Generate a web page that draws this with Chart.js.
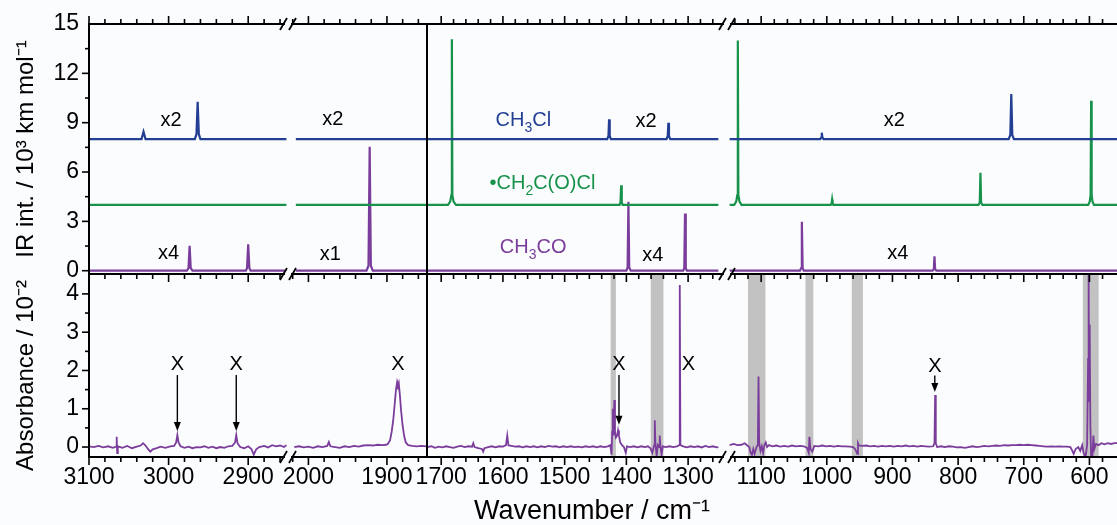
<!DOCTYPE html>
<html><head><meta charset="utf-8">
<script src="https://cdn.jsdelivr.net/npm/chart.js@4.4.1/dist/chart.umd.min.js"></script>
<style>
html,body{margin:0;padding:0;background:#fbfcfe;}
canvas{display:block;}
</style></head><body>
<canvas id="c" width="1117" height="525"></canvas>
<script>
// ---------- axis ticks (wavenumber segments, cm-1) ----------
const xTicksSeg1 = [3100, 3000, 2900];
const xTicksSeg2 = [2000, 1900];
const xTicksSeg3 = [1700, 1600, 1500, 1400, 1300];
const xTicksSeg4 = [1100, 1000, 900, 800, 700, 600];
const yTicksIR = [0, 3, 6, 9, 12, 15];
const yTicksAbs = [0, 1, 2, 3, 4];

// ---------- calculated IR spectra (offset traces) ----------
const ch3clSeg1 = [[3100,8],[3034,8],[3031.5,8.45],[3029,8],[2967,8],[2965,8.3],[2963.5,10.27],[2962,8.3],[2960,8],[2852,8]];
const ch3clSeg2 = [[2016,8],[1849,8]];
const ch3clSeg3 = [[1723,8],[1431,8],[1429,8.2],[1428,9.2],[1427,8.2],[1425,8],[1335,8],[1333,8.2],[1332,9.0],[1331,8.2],[1329,8],[1251,8]];
const ch3clSeg4 = [[1148,8],[1010,8],[1008.5,8.1],[1007.6,8.39],[1006.7,8.1],[1005,8],[723,8],[720.5,8.25],[719,10.74],[717.5,8.25],[715,8],[558,8]];

const ch2coclSeg1 = [[3100,4],[2852,4]];
const ch2coclSeg2 = [[2016,4],[1849,4]];
const ch2coclSeg3 = [[1723,4],[1689,4],[1685.5,4.2],[1683.5,4.6],[1682.7,14.07],[1681.9,4.6],[1680,4.2],[1676,4],[1411,4],[1409.5,4.15],[1408.5,5.2],[1407.5,4.15],[1406,4],[1251,4]];
const ch2coclSeg4 = [[1148,4],[1141,4],[1138,4.2],[1136.3,4.6],[1135.5,13.99],[1134.7,4.6],[1133,4.2],[1130,4],[994,4],[992.7,4.1],[991.9,4.33],[991.1,4.1],[990,4],[769,4],[767,4.15],[766,5.95],[765,4.15],[763,4],[602,4],[599.5,4.2],[598.2,4.6],[597.4,10.33],[596.6,4.6],[595.3,4.2],[593,4],[558,4]];

const ch3coSeg1 = [[3100,0],[2977,0],[2975,0.15],[2973.6,1.51],[2972.2,0.15],[2970,0],[2903,0],[2901.5,0.15],[2900,1.6],[2898.5,0.15],[2897,0],[2852,0]];
const ch3coSeg2 = [[2016,0],[1926,0],[1923.5,0.3],[1922,7.54],[1920.5,0.3],[1918,0],[1849,0]];
const ch3coSeg3 = [[1723,0],[1400,0],[1398,0.2],[1396.7,4.19],[1395.4,0.2],[1393,0],[1308,0],[1306.2,0.15],[1305,3.48],[1303.8,0.15],[1302,0],[1251,0]];
const ch3coSeg4 = [[1148,0],[1041,0],[1039.2,0.15],[1038,2.97],[1036.8,0.15],[1035,0],[839,0],[837,0.1],[836,0.88],[835,0.1],[833,0],[558,0]];

// ---------- measured difference spectrum (absorbance / 10^-2) ----------
const absSeg1 = [[3100,0.02],[3094,0.0],[3088,0.03],[3082,-0.01],[3076,0.02],[3070,-0.02],[3066,0.01],[3065.2,0.27],[3064.6,-0.16],[3063.8,0.02],[3058,-0.02],[3052,0.03],[3046,-0.03],[3040,0.01],[3035,0.04],[3032,0.1],[3029,0.04],[3026,-0.05],[3023,-0.12],[3020,-0.06],[3015,-0.03],[3010,0.01],[3004,-0.02],[2998,0.02],[2993,0.03],[2990.5,0.12],[2989,0.31],[2987.5,0.12],[2985,0.02],[2980,-0.02],[2975,0.01],[2970,-0.03],[2965,0.0],[2960,-0.01],[2955,0.02],[2950,-0.02],[2945,0.01],[2940,-0.03],[2935,0.0],[2930,-0.02],[2925,0.02],[2920,0.03],[2916.5,0.12],[2915,0.31],[2913.5,0.1],[2910,0.0],[2905,-0.03],[2900,0.02],[2896,-0.05],[2893,-0.2],[2890,-0.06],[2886,0.0],[2880,0.03],[2875,-0.01],[2870,0.05],[2865,0.02],[2860,0.04],[2855,0.0],[2852,0.05]];
const absSeg2 = [[2018,0.0],[2012,0.02],[2006,-0.01],[2000,0.01],[1994,-0.02],[1988,0.02],[1982,0.0],[1976,0.03],[1974,0.13],[1972,0.02],[1966,0.0],[1960,-0.02],[1954,0.02],[1948,0.0],[1942,0.03],[1936,0.01],[1930,0.04],[1924,0.05],[1918,0.04],[1912,0.06],[1906,0.05],[1901,0.06],[1899,0.08],[1896,0.18],[1894,0.4],[1892,0.7],[1890,1.15],[1888.5,1.5],[1887,1.7],[1886,1.62],[1885,1.68],[1883.5,1.35],[1882,0.95],[1880,0.55],[1878,0.28],[1876,0.12],[1873,0.05],[1868,0.03],[1862,0.02],[1856,0.03],[1849,0.02]];
const absSeg3 = [[1723,0.0],[1716,0.02],[1710,-0.02],[1704,0.01],[1698,-0.01],[1692,0.02],[1686,0.0],[1680,-0.02],[1674,0.01],[1668,0.03],[1662,0.0],[1656,0.02],[1650,0.01],[1648,0.1],[1646,0.0],[1640,-0.03],[1634,-0.05],[1632,-0.12],[1630,-0.03],[1624,0.0],[1618,0.02],[1612,-0.01],[1606,0.02],[1600,0.01],[1595,0.05],[1593,0.3],[1591,0.04],[1586,0.03],[1580,0.01],[1574,0.02],[1568,-0.01],[1562,0.02],[1556,0.0],[1550,0.02],[1544,-0.01],[1538,0.02],[1532,0.0],[1526,0.03],[1520,0.01],[1514,0.02],[1508,-0.01],[1502,0.02],[1496,0.0],[1490,0.02],[1484,0.0],[1478,0.01],[1472,-0.01],[1466,0.02],[1460,0.0],[1454,0.02],[1448,-0.01],[1442,0.02],[1436,0.0],[1430,0.02],[1426,0.05],[1424,-0.2],[1423,0.4],[1422,1.0],[1421,0.3],[1419.5,1.23],[1418.5,0.4],[1417,0.25],[1415,0.3],[1413.5,0.44],[1412,0.3],[1410,0.12],[1407,0.05],[1404,0.0],[1401,-0.15],[1399,0.02],[1394,0.0],[1388,0.02],[1382,-0.01],[1376,0.02],[1370,0.0],[1365,0.02],[1361,-0.03],[1358,-0.15],[1355,0.05],[1354,0.7],[1353,0.1],[1351,-0.22],[1349,0.05],[1347,0.0],[1346,0.3],[1345,0.05],[1343,-0.2],[1341,0.02],[1336,0.0],[1330,0.02],[1324,0.0],[1318,0.02],[1314.5,0.05],[1313.5,4.23],[1312.5,0.05],[1308,0.02],[1302,-0.01],[1296,0.02],[1290,0.0],[1284,0.02],[1278,-0.01],[1272,0.03],[1266,0.0],[1260,0.02],[1254,-0.01],[1251,0.0]];
const absSeg4 = [[1148,0.05],[1142,0.08],[1136,0.05],[1130,0.06],[1125,0.1],[1121,0.04],[1118,0.0],[1116,-0.15],[1114,-0.2],[1112,-0.05],[1110,-0.18],[1107,0.0],[1105,0.05],[1104,1.84],[1103,0.1],[1101,-0.1],[1099,0.02],[1097,-0.15],[1095,0.05],[1093,0.12],[1091,0.0],[1088,0.05],[1083,0.02],[1077,0.04],[1071,0.01],[1065,0.03],[1059,0.01],[1053,0.04],[1047,0.02],[1041,0.03],[1035,0.02],[1030,-0.02],[1027.5,-0.15],[1026.5,0.27],[1025,-0.05],[1022,-0.12],[1019,0.03],[1013,0.02],[1007,0.04],[1001,0.02],[995,0.03],[989,0.01],[983,0.03],[977,0.02],[971,0.02],[965,0.01],[960,0.0],[957,-0.05],[955,-0.12],[953.5,-0.18],[952.5,0.1],[951,0.04],[946,0.03],[940,0.04],[934,0.02],[928,0.03],[922,0.01],[916,0.03],[910,0.02],[904,0.03],[898,0.01],[892,0.03],[886,0.02],[880,0.04],[874,0.02],[868,0.03],[862,0.01],[856,0.03],[850,0.02],[844,0.01],[838,0.02],[836,0.1],[835,1.36],[834,0.1],[832,0.0],[826,0.02],[820,0.0],[814,0.02],[808,0.01],[802,-0.01],[796,0.0],[790,-0.02],[784,0.0],[778,0.02],[772,0.0],[766,0.01],[760,0.03],[754,0.02],[748,0.03],[742,0.04],[736,0.03],[730,0.05],[724,0.04],[718,0.05],[712,0.05],[706,0.06],[700,0.05],[694,0.06],[688,0.05],[682,0.04],[676,0.03],[670,0.02],[664,0.01],[658,0.02],[652,0.01],[646,0.02],[640,0.01],[634,0.01],[629,0.0],[626,-0.1],[624,-0.18],[621,-0.05],[617,0.0],[614,-0.1],[611,0.05],[609,-0.15],[606,-0.26],[603.5,0.05],[602,2.3],[601.2,4.5],[600.5,1.2],[599.6,3.2],[598.6,0.6],[597.5,-0.22],[595.5,-0.26],[594,0.3],[592.5,-0.05],[590,0.08],[586,0.05],[582,0.1],[577,0.07],[572,0.1],[567,0.08],[562,0.1],[558,0.1]];

// ---------- shaded regions (cm-1 ranges) ----------
const bandsSeg3 = [[1425.5,1417],[1360.5,1340]];
const bandsSeg4 = [[1120,1093.5],[1032.5,1020.5],[962,945],[610,586]];

// ---------- annotations ----------
const scaleLabels = [['x2','x1',2997,9.16],['x4','x1',3000,1.05],['x2','x2',1969,9.2],['x1','x2',1972,1.0],['x2','x3',1368,9.06],['x4','x3',1357,0.94],['x2','x4',897,9.16],['x4','x4',892,1.05]];
const markLabels = [['x1',2989,2.15,1.88,0.42],['x1',2915,2.15,1.88,0.42],['x2',1886,2.15,null,null],['x3',1412,2.16,1.88,0.58],['x3',1299.5,2.15,null,null],['x4',835.5,2.1,1.87,1.44]];

const FONT = "'Liberation Sans', Arial, Helvetica, sans-serif";
const BLUE = '#233f94', GREEN = '#17924a', PURPLE = '#7b3d9b', BAND = '#c2c2c2', BG = '#fbfcfe';

const speciesLabels = [
  {parts:[['CH',0],['3',1],['Cl',0]], axis:'x3', x:1567, y:9.15, color:BLUE},
  {parts:[['\u2022',0],['CH',0],['2',1],['C(O)Cl',0]], axis:'x3', x:1536, y:5.3, color:GREEN},
  {parts:[['CH',0],['3',1],['CO',0]], axis:'x3', x:1551, y:1.4, color:PURPLE}
];

function ds(arr, xid, yid, color, w) {
  return {data: arr.map(([x, y]) => ({x, y})), xAxisID: xid, yAxisID: yid, borderColor: color,
    borderWidth: w, pointRadius: 0, fill: false, tension: 0};
}

const datasets = [
  ds(ch3clSeg1,'x1','yTop',BLUE,2.2), ds(ch3clSeg2,'x2','yTop',BLUE,2.2), ds(ch3clSeg3,'x3','yTop',BLUE,2.2), ds(ch3clSeg4,'x4','yTop',BLUE,2.2),
  ds(ch2coclSeg1,'x1','yTop',GREEN,2.2), ds(ch2coclSeg2,'x2','yTop',GREEN,2.2), ds(ch2coclSeg3,'x3','yTop',GREEN,2.2), ds(ch2coclSeg4,'x4','yTop',GREEN,2.2),
  ds(ch3coSeg1,'x1','yTop',PURPLE,2.2), ds(ch3coSeg2,'x2','yTop',PURPLE,2.2), ds(ch3coSeg3,'x3','yTop',PURPLE,2.2), ds(ch3coSeg4,'x4','yTop',PURPLE,2.2),
  ds(absSeg1,'x1','yBot',PURPLE,1.8), ds(absSeg2,'x2','yBot',PURPLE,1.8), ds(absSeg3,'x3','yBot',PURPLE,1.8), ds(absSeg4,'x4','yBot',PURPLE,1.8)
];

function xAxis(min, max, weight, order, ticksArr, title) {
  return {
    type: 'linear', position: 'bottom', stack: 'wn', stackWeight: weight, weight: order,
    min: min, max: max, reverse: true,
    grid: {display: false, drawTicks: false}, border: {display: false},
    ticks: {autoSkip: false, maxRotation: 0, minRotation: 0, padding: 7, color: '#000',
      font: {size: 23, family: FONT}, callback: v => String(v)},
    afterBuildTicks: s => { s.ticks = ticksArr.map(v => ({value: v})); },
    afterFit: s => { s.height = 68; s.paddingLeft = 0; s.paddingRight = 0; },
    title: title ? {display: true, text: title, color: '#000', font: {size: 27, family: FONT, lineHeight: 1}, padding: {top: 0, bottom: 0}} : {display: false}
  };
}
function yAxis(min, max, weight, order, ticksArr, title) {
  return {
    type: 'linear', position: 'left', stack: 'ab', stackWeight: weight, weight: order,
    min: min, max: max,
    grid: {display: false, drawTicks: false}, border: {display: false},
    ticks: {autoSkip: false, padding: 10, color: '#000', font: {size: 23, family: FONT}, callback: v => String(v)},
    afterBuildTicks: s => { s.ticks = ticksArr.map(v => ({value: v})); },
    afterFit: s => { s.width = 89; s.paddingTop = 0; s.paddingBottom = 0; },
    title: {display: true, text: title, color: '#000', font: {size: 24, family: FONT, lineHeight: 1}, padding: {top: 14, bottom: 0}}
  };
}

function line(ctx, x1, y1, x2, y2) { ctx.beginPath(); ctx.moveTo(x1, y1); ctx.lineTo(x2, y2); ctx.stroke(); }

const bandsPlugin = {
  id: 'bands',
  beforeDatasetsDraw(chart) {
    const {ctx, scales: S} = chart;
    ctx.save();
    ctx.fillStyle = BAND;
    const yb = S.yBot;
    [['x3', bandsSeg3], ['x4', bandsSeg4]].forEach(([id, list]) => {
      list.forEach(([a, b]) => {
        const p1 = S[id].getPixelForValue(a), p2 = S[id].getPixelForValue(b);
        ctx.fillRect(Math.min(p1, p2), yb.top, Math.abs(p2 - p1), yb.bottom - yb.top);
      });
    });
    ctx.restore();
  }
};

const framePlugin = {
  id: 'frame',
  afterDatasetsDraw(chart) {
    const {ctx, scales: S} = chart;
    const top = S.yTop.top, mid = S.yBot.top, bot = S.yBot.bottom;
    const left = S.x1.left, right = S.x4.right;
    ctx.save();
    ctx.strokeStyle = '#000';
    ctx.lineWidth = 1.6;
    ['x1', 'x2', 'x3', 'x4'].forEach((id, i) => {
      const s = S[id];
      for (let v = Math.ceil(s.min / 20) * 20; v <= s.max; v += 20) {
        const p = s.getPixelForValue(v);
        if (p > s.right - 4 || (i > 0 && p < s.left + 4)) continue;
        const L = v % 100 === 0 ? 8 : 5;
        line(ctx, p, top, p, top - L);
        line(ctx, p, mid, p, mid + L);
        line(ctx, p, bot, p, bot + L);
      }
    });
    [[S.yTop, 1.5, 2], [S.yBot, 0.5, 2]].forEach(([s, step, every]) => {
      for (let k = 0; k * step <= s.max; k++) {
        const p = s.getPixelForValue(k * step);
        if (p < s.top + 3) continue;
        const L = k % every === 0 ? 7 : 4;
        line(ctx, left, p, left - L, p);
      }
    });
    ctx.lineWidth = 2;
    line(ctx, left, top - 1, left, bot + 1);
    line(ctx, left, top, right, top);
    line(ctx, left, mid, right, mid);
    line(ctx, left, bot, right, bot);
    const div = S.x3.left;
    line(ctx, div, top, div, bot);
    [S.x1.right, S.x3.right].forEach(bx => {
      [top, mid, bot].forEach(by => {
        ctx.fillStyle = BG;
        ctx.fillRect(bx - 3, by - 3, 6, 6);
        ctx.lineWidth = 1.8;
        line(ctx, bx - 8, by + 6, bx - 1, by - 6);
        line(ctx, bx + 1, by + 6, bx + 8, by - 6);
      });
    });
    ctx.restore();
  }
};

function drawParts(ctx, parts, cx, cy, color, size) {
  const big = size + 'px ' + FONT, small = Math.round(size * 0.68) + 'px ' + FONT;
  let w = 0;
  parts.forEach(([t, sub]) => { ctx.font = sub ? small : big; w += ctx.measureText(t).width; });
  let x = cx - w / 2;
  ctx.fillStyle = color; ctx.textBaseline = 'middle'; ctx.textAlign = 'left';
  parts.forEach(([t, sub]) => {
    ctx.font = sub ? small : big;
    ctx.fillText(t, x, sub ? cy + size * 0.38 : cy);
    x += ctx.measureText(t).width;
  });
}

const annotPlugin = {
  id: 'annot',
  afterDraw(chart) {
    const {ctx, scales: S} = chart;
    ctx.save();
    scaleLabels.forEach(([t, id, x, y]) => {
      drawParts(ctx, [[t, 0]], S[id].getPixelForValue(x), S.yTop.getPixelForValue(y), '#000', 20);
    });
    speciesLabels.forEach(l => {
      drawParts(ctx, l.parts, S[l.axis].getPixelForValue(l.x), S.yTop.getPixelForValue(l.y), l.color, 20);
    });
    markLabels.forEach(([id, x, ty, from, to]) => {
      const px = S[id].getPixelForValue(x);
      drawParts(ctx, [['X', 0]], px, S.yBot.getPixelForValue(ty), '#000', 20);
      if (from !== null) {
        const y1 = S.yBot.getPixelForValue(from), y2 = S.yBot.getPixelForValue(to);
        ctx.strokeStyle = '#000'; ctx.lineWidth = 1.4;
        line(ctx, px, y1, px, y2 - 6);
        ctx.fillStyle = '#000';
        ctx.beginPath(); ctx.moveTo(px, y2); ctx.lineTo(px - 3.5, y2 - 9); ctx.lineTo(px + 3.5, y2 - 9); ctx.closePath(); ctx.fill();
      }
    });
    ctx.restore();
  }
};

new Chart(document.getElementById('c'), {
  type: 'line',
  data: {datasets: datasets},
  options: {
    responsive: false, animation: false, devicePixelRatio: 1, events: [],
    layout: {padding: {top: 24, left: 0, right: 0, bottom: 0}},
    plugins: {legend: {display: false}, tooltip: {enabled: false}},
    scales: {
      x1: xAxis(2850, 3100, 199, 1, xTicksSeg1, null),
      x2: xAxis(1849, 2026, 139, 2, xTicksSeg2, null),
      x3: xAxis(1237, 1723, 300, 3, xTicksSeg3, '    Wavenumber / cm\u207B\u00B9'),
      x4: xAxis(558, 1152, 390, 4, xTicksSeg4, null),
      yBot: yAxis(-0.26, 4.52, 183, 1, yTicksAbs, 'Absorbance / 10\u207B\u00B2   '),
      yTop: yAxis(-0.2, 15, 250, 2, yTicksIR, 'IR int. / 10\u00B3 km mol\u207B\u00B9')
    }
  },
  plugins: [bandsPlugin, framePlugin, annotPlugin]
});
</script>
</body></html>
